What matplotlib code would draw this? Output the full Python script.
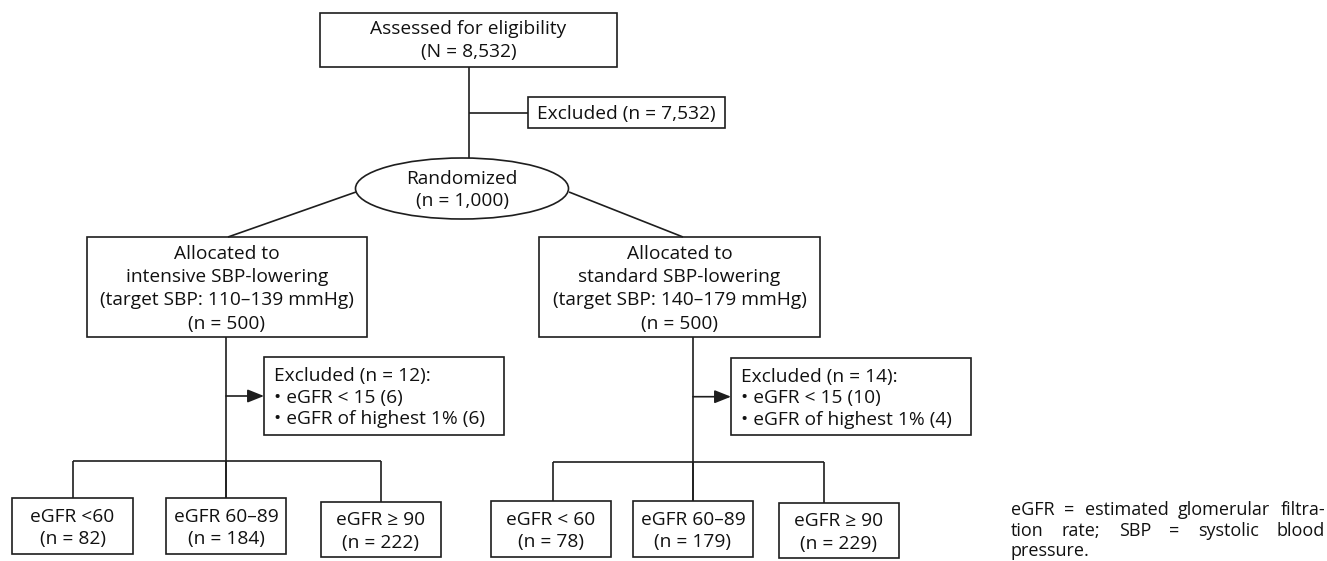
import matplotlib.pyplot as plt
from matplotlib.patches import Rectangle, Ellipse

plt.rcParams['font.family'] = ['Open Sans', 'DejaVu Sans']

# --------------------------
# data
# --------------------------
assessed_n = 8532
screen_excluded_n = 7532
randomized_n = 1000
arm_names = ["intensive", "standard"]
arm_targets = ["110–139", "140–179"]
arm_n = [500, 500]
arm_excluded = [12, 14]
excluded_low = [6, 10]
excluded_high = [6, 4]
group_labels = [["eGFR <60", "eGFR 60–89", "eGFR ≥ 90"],
                ["eGFR < 60", "eGFR 60–89", "eGFR ≥ 90"]]
group_n = [[82, 184, 222], [78, 179, 229]]
footnote_lines = ["eGFR = estimated glomerular filtra-",
                  "tion rate; SBP = systolic blood",
                  "pressure."]

W, H = 1327, 561
LW = 1.2
EC = "#1e1e1e"
TC = "#111111"
FS = 13.8

fig = plt.figure(figsize=(W / 100, H / 100), dpi=100)
ax = fig.add_axes([0, 0, 1, 1])
ax.set_xlim(0, W)
ax.set_ylim(H, 0)
ax.axis("off")


def box(x0, y0, x1, y1):
    ax.add_patch(Rectangle((x0, y0), x1 - x0, y1 - y0, fill=False, lw=LW, ec=EC))


def line(xs, ys):
    ax.plot(xs, ys, color=EC, lw=LW, solid_capstyle="butt")


def lines_text(x, cy, lines, step, ha="center", fs=FS):
    n = len(lines)
    cap = 0.714 * fs * 100 / 72
    for i, s in enumerate(lines):
        y = cy + (i - (n - 1) / 2) * step + cap / 2
        ax.text(x, y, s, ha=ha, va="baseline", fontsize=fs, color=TC)


def arrow(x0, x1, y):
    ax.annotate("", xy=(x1, y), xytext=(x0, y),
                arrowprops=dict(arrowstyle="-|>,head_length=0.5,head_width=0.2",
                                color=EC, lw=LW, mutation_scale=20,
                                shrinkA=0, shrinkB=0))


# --------------------------
# top part
# --------------------------
box(320, 13, 617, 67)
lines_text(468.5, 39, ["Assessed for eligibility", f"(N = {assessed_n:,})"], 23)
line([469, 469], [67, 158])
line([469, 528], [112.7, 112.7])
box(528, 97, 725, 128)
lines_text(626.5, 112.5, [f"Excluded (n = {screen_excluded_n:,})"], 23)

ax.add_patch(Ellipse((462, 188.5), 213, 61, fill=False, lw=LW, ec=EC))
lines_text(462, 188.5, ["Randomized", f"(n = {randomized_n:,})"], 22)
line([356, 228], [192, 237])
line([569, 683], [192, 237])

# --------------------------
# arms
# --------------------------
alloc_boxes = [(87, 237, 367, 337), (539, 237, 820, 337)]
stem_x = [226, 693]
arrow_y = [396, 396.7]
excl_boxes = [(264, 357, 504, 435), (731, 358, 971, 435)]
bracket_y = [460.5, 461.7]
group_boxes = [[(12, 498, 133, 554), (166, 498, 286, 554), (321, 502, 441, 557)],
               [(491, 501, 611, 557), (633, 501, 753, 557), (779, 503, 899, 558)]]
leg_x = [[72.5, 226, 381], [553, 693, 824]]

for a in range(2):
    x0, y0, x1, y1 = alloc_boxes[a]
    box(x0, y0, x1, y1)
    lines_text((x0 + x1) / 2, (y0 + y1) / 2,
               ["Allocated to", f"{arm_names[a]} SBP-lowering",
                f"(target SBP: {arm_targets[a]} mmHg)", f"(n = {arm_n[a]})"], 23.3)

    sx = stem_x[a]
    line([sx, sx], [y1, group_boxes[a][1][1]])
    ex0, ey0, ex1, ey1 = excl_boxes[a]
    arrow(sx, ex0, arrow_y[a])
    box(ex0, ey0, ex1, ey1)
    lines_text(ex0 + 10, (ey0 + ey1) / 2,
               [f"Excluded (n = {arm_excluded[a]}):",
                f"• eGFR < 15 ({excluded_low[a]})",
                f"• eGFR of highest 1% ({excluded_high[a]})"], 21.5, ha="left")

    by = bracket_y[a]
    line([leg_x[a][0], leg_x[a][2]], [by, by])
    for g in range(3):
        gx0, gy0, gx1, gy1 = group_boxes[a][g]
        line([leg_x[a][g], leg_x[a][g]], [by, gy0])
        box(gx0, gy0, gx1, gy1)
        lines_text((gx0 + gx1) / 2, (gy0 + gy1) / 2,
                   [group_labels[a][g], f"(n = {group_n[a][g]})"], 22.5)

# --------------------------
# footnote (justified)
# --------------------------
FN_FS = 13
fn_left, fn_right = 1011, 1325
fn_base = [515, 535.5, 556]
renderer = fig.canvas.get_renderer()


def word_width(w):
    t = ax.text(0, 0, w, fontsize=FN_FS)
    wd = t.get_window_extent(renderer).width
    t.remove()
    return wd


for i, s in enumerate(footnote_lines):
    words = s.split()
    if i == len(footnote_lines) - 1 or len(words) == 1:
        ax.text(fn_left, fn_base[i], s, fontsize=FN_FS, color=TC, va="baseline")
        continue
    widths = [word_width(w) for w in words]
    gap = (fn_right - fn_left - sum(widths)) / (len(words) - 1)
    x = fn_left
    for w, wd in zip(words, widths):
        ax.text(x, fn_base[i], w, fontsize=FN_FS, color=TC, va="baseline")
        x += wd + gap

plt.savefig("out.png", dpi=100)
plt.close()
